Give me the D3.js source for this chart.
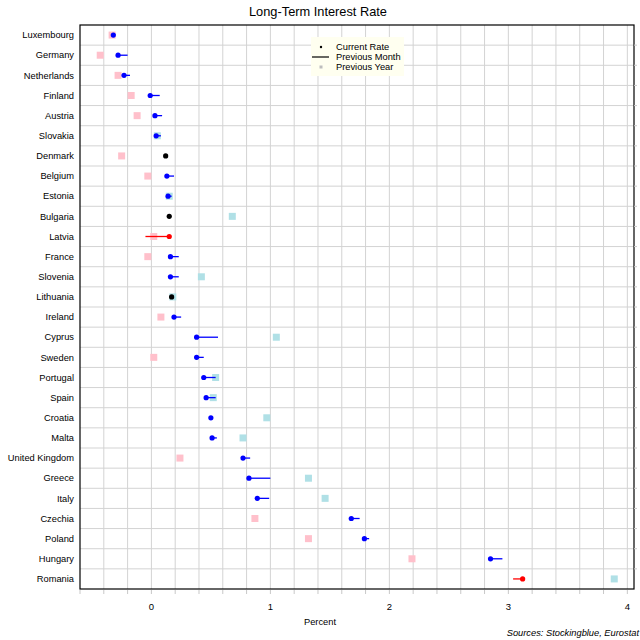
<!DOCTYPE html>
<html>
<head>
<meta charset="utf-8">
<script src="https://cdn.jsdelivr.net/npm/d3@7"></script>
<style>
  body { margin: 0; background: #fff; }
  svg { font-family: "Liberation Sans", Arial, sans-serif; }
</style>
</head>
<body>
<div id="chart"></div>
<script>
// Countries, top to bottom
const countries = ['Luxembourg', 'Germany', 'Netherlands', 'Finland', 'Austria', 'Slovakia',
  'Denmark', 'Belgium', 'Estonia', 'Bulgaria', 'Latvia', 'France', 'Slovenia', 'Lithuania',
  'Ireland', 'Cyprus', 'Sweden', 'Portugal', 'Spain', 'Croatia', 'Malta', 'United Kingdom',
  'Greece', 'Italy', 'Czechia', 'Poland', 'Hungary', 'Romania'];

// Long-term interest rates (percent)
const currentRate = [-0.32, -0.28, -0.23, -0.01, 0.03, 0.04,
  0.12, 0.13, 0.14, 0.15, 0.15, 0.16, 0.16, 0.17,
  0.19, 0.38, 0.38, 0.44, 0.46, 0.50, 0.51, 0.77,
  0.82, 0.89, 1.68, 1.79, 2.85, 3.12];
const previousMonth = [-0.31, -0.20, -0.18, 0.07, 0.09, 0.08,
  0.12, 0.19, 0.17, 0.15, -0.05, 0.23, 0.23, 0.17,
  0.25, 0.56, 0.44, 0.54, 0.54, 0.51, 0.55, 0.83,
  1.00, 0.99, 1.75, 1.83, 2.95, 3.04];
const previousYear = [-0.33, -0.43, -0.28, -0.17, -0.12, 0.05,
  -0.25, -0.03, 0.15, 0.68, 0.02, -0.03, 0.42, 0.18,
  0.08, 1.05, 0.02, 0.54, 0.52, 0.97, 0.77, 0.24,
  1.32, 1.46, 0.87, 1.32, 2.19, 3.89];

const xTicks = [0, 1, 2, 3, 4];

const data = countries.map((c, i) => ({
  country: c,
  cur: currentRate[i],
  month: previousMonth[i],
  year: previousYear[i]
}));

const W = 640, H = 640;
const margin = { top: 25, right: 6, bottom: 51, left: 80 };
const width = W - margin.left - margin.right;
const height = H - margin.top - margin.bottom;

const svg = d3.select('#chart').append('svg')
  .attr('width', W)
  .attr('height', H);

const g = svg.append('g')
  .attr('transform', `translate(${margin.left},${margin.top})`);

const x = d3.scaleLinear().domain([-0.6, 4.056]).range([0, width]);
const y = d3.scaleBand().domain(countries).range([0, height]).padding(0);

function dotColor(d) {
  if (d.cur < d.month) return '#0000ff';
  if (d.cur > d.month) return '#ff0000';
  return '#000000';
}
function yearColor(d) {
  return d.year > d.cur ? '#b0e0e6' : '#ffc0cb';
}

// Grid
const minor = d3.range(-4, 41, 2).map(v => v / 10);
g.append('g').selectAll('line.vg')
  .data(minor.filter(v => v > -0.6 && v < 4.05))
  .enter().append('line')
  .attr('x1', d => x(d)).attr('x2', d => x(d))
  .attr('y1', 0).attr('y2', height)
  .attr('stroke', '#d3d3d3').attr('stroke-width', 1);

g.append('g').selectAll('line.hg')
  .data(countries.slice(1))
  .enter().append('line')
  .attr('x1', 0).attr('x2', width)
  .attr('y1', d => y(d)).attr('y2', d => y(d))
  .attr('stroke', '#d3d3d3').attr('stroke-width', 1);

// Previous year squares
const sq = 7;
g.selectAll('.year')
  .data(data)
  .enter().append('rect')
  .attr('x', d => x(d.year) - sq / 2)
  .attr('y', d => y(d.country) + y.bandwidth() / 2 - sq / 2)
  .attr('width', sq).attr('height', sq)
  .attr('fill', d => yearColor(d));

// Previous month lines
g.selectAll('.month')
  .data(data)
  .enter().append('line')
  .attr('x1', d => x(d.month)).attr('x2', d => x(d.cur))
  .attr('y1', d => y(d.country) + y.bandwidth() / 2)
  .attr('y2', d => y(d.country) + y.bandwidth() / 2)
  .attr('stroke', d => dotColor(d))
  .attr('stroke-width', 1.3);

// Current rate dots
g.selectAll('.cur')
  .data(data)
  .enter().append('circle')
  .attr('cx', d => x(d.cur))
  .attr('cy', d => y(d.country) + y.bandwidth() / 2)
  .attr('r', 2.6)
  .attr('fill', d => dotColor(d));

// Frame
g.append('rect')
  .attr('width', width).attr('height', height)
  .attr('fill', 'none').attr('stroke', '#000').attr('stroke-width', 1.2);

// Bottom axis: minor ticks every 0.2, labels at integers
g.append('g').selectAll('line.bt')
  .data(d3.range(-6, 41, 2).map(v => v / 10))
  .enter().append('line')
  .attr('x1', d => x(d)).attr('x2', d => x(d))
  .attr('y1', height + 1).attr('y2', height + 5)
  .attr('stroke', '#c8c8c8');

g.append('g').selectAll('text.bl')
  .data(xTicks)
  .enter().append('text')
  .attr('x', d => x(d))
  .attr('y', height + 21)
  .attr('text-anchor', 'middle')
  .style('font-size', '9.5px')
  .text(d => d);

// Right side ticks
g.append('g').selectAll('line.rt')
  .data(countries.slice(1))
  .enter().append('line')
  .attr('x1', width).attr('x2', width + 3)
  .attr('y1', d => y(d)).attr('y2', d => y(d))
  .attr('stroke', '#c8c8c8');

// Country labels
g.append('g').selectAll('text.cl')
  .data(countries)
  .enter().append('text')
  .attr('x', -6)
  .attr('y', d => y(d) + y.bandwidth() / 2)
  .attr('dy', '0.35em')
  .attr('text-anchor', 'end')
  .style('font-size', '9.3px')
  .text(d => d);

// Title and annotations
svg.append('text')
  .attr('x', 318).attr('y', 16)
  .attr('text-anchor', 'middle')
  .style('font-size', '12.8px')
  .text('Long-Term Interest Rate');

svg.append('text')
  .attr('x', 320).attr('y', 625)
  .attr('text-anchor', 'middle')
  .style('font-size', '9.3px')
  .text('Percent');

svg.append('text')
  .attr('x', 639).attr('y', 636)
  .attr('text-anchor', 'end')
  .style('font-size', '9.3px')
  .style('font-style', 'italic')
  .text('Sources: Stockingblue, Eurostat');

// Legend
const lg = svg.append('g').attr('transform', 'translate(311,37)');
lg.append('rect')
  .attr('width', 93).attr('height', 39)
  .attr('fill', '#fffff0');
lg.append('circle').attr('cx', 10).attr('cy', 10).attr('r', 1.2).attr('fill', '#000');
lg.append('line').attr('x1', 1).attr('x2', 18).attr('y1', 20).attr('y2', 20)
  .attr('stroke', '#000').attr('stroke-width', 1.2);
lg.append('rect').attr('x', 8.5).attr('y', 28.5).attr('width', 3).attr('height', 3).attr('fill', '#bdbdbd');
const legendLabels = ['Current Rate', 'Previous Month', 'Previous Year'];
lg.selectAll('text.lt')
  .data(legendLabels)
  .enter().append('text')
  .attr('x', 25)
  .attr('y', (d, i) => 10 + i * 10)
  .attr('dy', '0.35em')
  .style('font-size', '9.3px')
  .text(d => d);
</script>
</body>
</html>
